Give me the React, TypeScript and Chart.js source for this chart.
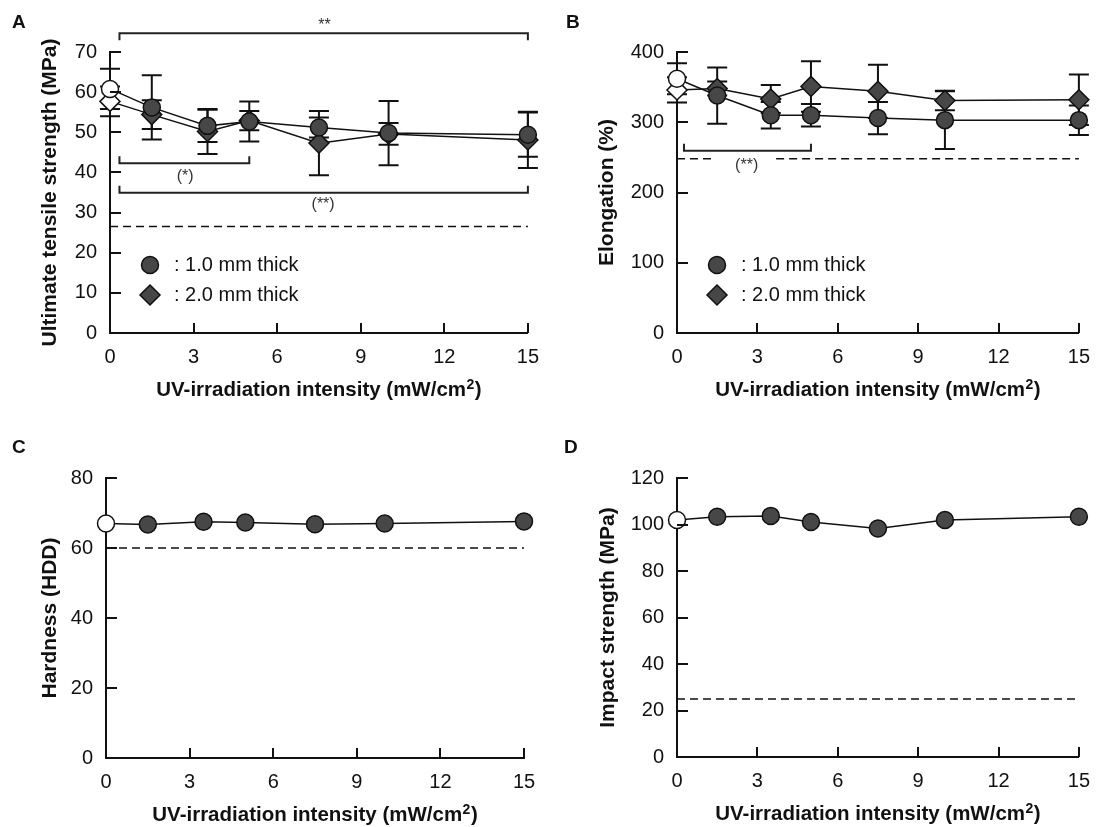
import React, { useEffect, useRef } from 'react';
import { Chart, registerables } from 'chart.js';

Chart.register(...registerables);

const FONT = '"Liberation Sans", Arial, Helvetica, sans-serif';

// ---------- data ----------
const xValues = [0, 1.5, 3.5, 5, 7.5, 10, 15];
const xTicks = [0, 3, 6, 9, 12, 15];

const tensileTicks = [0, 10, 20, 30, 40, 50, 60, 70];
const tensile1mm = [60.8, 56.2, 51.6, 52.7, 51.2, 49.8, 49.4];
const tensile1mmErr = [5, 8, 4, 5, 2.5, 8, 5.5];
const tensile2mm = [57.7, 54.4, 50.2, 52.9, 47.3, 49.6, 48.1];
const tensile2mmErr = [3.7, 3.6, 5.6, 2.4, 8, 2.7, 7];
const tensileStandardX = [0, 15];
const tensileStandard = [26.5, 26.5];

const elongTicks = [0, 100, 200, 300, 400];
const elong1mm = [362, 338, 310, 310, 306, 303, 303];
const elong1mmErr = [22, 40, 19, 16, 23, 41, 21];
const elong2mm = [346, 348, 333, 351, 344, 331, 332];
const elong2mmErr = [18, 10, 20, 36, 38, 14, 36];
const elongStandardX = [0, 1.4, 2.55, 3.7, 15];
const elongStandard = [248, 248, null, 248, 248];

const hardnessTicks = [0, 20, 40, 60, 80];
const hardness = [67, 66.7, 67.5, 67.3, 66.8, 67, 67.6];
const hardnessStandardX = [0, 15];
const hardnessStandard = [60, 60];

const impactTicks = [0, 20, 40, 60, 80, 100, 120];
const impact = [101.9, 103.3, 103.7, 101.1, 98.3, 101.9, 103.3];
const impactStandardX = [0, 15];
const impactStandard = [25, 25];

// significance brackets (data coordinates)
const bracketsA = [
  { x1: 0.34, x2: 15, y: 74.7, dir: 1, label: '**', lx: 7.7, ly: 76.6 },
  { x1: 0.34, x2: 5, y: 42.3, dir: -1, label: '(*)', lx: 2.7, ly: 38.9 },
  { x1: 0.34, x2: 15, y: 34.95, dir: -1, label: '(**)', lx: 7.65, ly: 31.9 },
];
const bracketsB = [
  { x1: 0.26, x2: 5, y: 259.5, dir: -1, label: '(**)', lx: 2.6, ly: 239 },
];

const legendLabels = [': 1.0 mm thick', ': 2.0 mm thick'];
const xTitleMain = 'UV-irradiation intensity (mW/cm';
const xTitleSup = '2';
const xTitleEnd = ')';

// ---------- helpers ----------
const INK = '#111111';
const FILL = '#474747';

function pts(xs: number[], ys: (number | null)[]) {
  return xs.map((x, i) => ({ x, y: ys[i] }));
}

function seriesDataset(ys: number[], errs: number[] | null, style: 'circle' | 'rectRot') {
  return {
    data: pts(xValues, ys),
    errors: errs,
    showLine: true,
    borderColor: INK,
    borderWidth: 1.5,
    pointStyle: style,
    pointRadius: style === 'circle' ? 8.5 : 10,
    pointBackgroundColor: xValues.map((x) => (x === 0 ? '#ffffff' : FILL)),
    pointBorderColor: INK,
    pointBorderWidth: 1.5,
    clip: false,
    fill: false,
  };
}

function dashedDataset(xs: number[], ys: (number | null)[]) {
  return {
    data: pts(xs, ys),
    showLine: true,
    borderColor: INK,
    borderWidth: 1.5,
    borderDash: [8, 5],
    pointRadius: 0,
    spanGaps: false,
    clip: false,
    fill: false,
  };
}

type Area = { left: number; top: number; right: number; bottom: number };
type PanelCfg = {
  letter: string;
  letterX: number;
  letterY: number;
  left: number;
  top: number;
  w: number;
  h: number;
  area: Area;
  yTicks: number[];
  yTitle: string;
  yTitleX: number;
  datasets: any[];
  brackets: any[];
  legend: boolean;
};

function drawDiamond(ctx: CanvasRenderingContext2D, x: number, y: number, r: number) {
  ctx.beginPath();
  ctx.moveTo(x, y - r);
  ctx.lineTo(x + r, y);
  ctx.lineTo(x, y + r);
  ctx.lineTo(x - r, y);
  ctx.closePath();
}

const errorBarsPlugin = {
  id: 'errorBars',
  beforeDatasetsDraw(chart: any) {
    const ctx = chart.ctx as CanvasRenderingContext2D;
    const xs = chart.scales.x;
    const ys = chart.scales.y;
    const CAP = 10;
    chart.data.datasets.forEach((ds: any) => {
      if (!ds.errors) return;
      ds.data.forEach((p: any, i: number) => {
        const e = ds.errors[i];
        if (!e) return;
        const px = xs.getPixelForValue(p.x);
        const top = ys.getPixelForValue(p.y + e);
        const bot = ys.getPixelForValue(p.y - e);
        ctx.save();
        ctx.strokeStyle = INK;
        ctx.lineWidth = 2;
        ctx.beginPath();
        ctx.moveTo(px, top);
        ctx.lineTo(px, bot);
        ctx.moveTo(px - CAP, top);
        ctx.lineTo(px + CAP, top);
        ctx.moveTo(px - CAP, bot);
        ctx.lineTo(px + CAP, bot);
        ctx.stroke();
        ctx.restore();
      });
    });
  },
};

function makeDecorPlugin(cfg: PanelCfg) {
  return {
    id: 'decor' + cfg.letter,
    afterDraw(chart: any) {
      const ctx = chart.ctx as CanvasRenderingContext2D;
      const xs = chart.scales.x;
      const ys = chart.scales.y;
      const a = chart.chartArea;
      ctx.save();
      // inward ticks
      ctx.strokeStyle = INK;
      ctx.lineWidth = 2;
      ctx.beginPath();
      xTicks.forEach((v) => {
        if (v === 0) return;
        const px = Math.round(xs.getPixelForValue(v));
        ctx.moveTo(px, a.bottom);
        ctx.lineTo(px, a.bottom - 10);
      });
      cfg.yTicks.forEach((v) => {
        if (v === 0) return;
        const py = Math.round(ys.getPixelForValue(v));
        ctx.moveTo(a.left, py);
        ctx.lineTo(a.left + 11, py);
      });
      ctx.stroke();

      // brackets
      cfg.brackets.forEach((b) => {
        const x1 = xs.getPixelForValue(b.x1);
        const x2 = xs.getPixelForValue(b.x2);
        const y = ys.getPixelForValue(b.y);
        const t = 7 * b.dir;
        ctx.strokeStyle = '#222';
        ctx.lineWidth = 2;
        ctx.beginPath();
        ctx.moveTo(x1, y + t);
        ctx.lineTo(x1, y);
        ctx.lineTo(x2, y);
        ctx.lineTo(x2, y + t);
        ctx.stroke();
        ctx.fillStyle = '#333';
        ctx.font = `16px ${FONT}`;
        ctx.textAlign = 'center';
        ctx.textBaseline = 'middle';
        ctx.fillText(b.label, xs.getPixelForValue(b.lx), ys.getPixelForValue(b.ly));
      });

      // legend
      if (cfg.legend) {
        const mx = a.left + 40;
        const tx = a.left + 64;
        const y1 = a.top + 213;
        const y2 = a.top + 243;
        ctx.fillStyle = FILL;
        ctx.strokeStyle = INK;
        ctx.lineWidth = 1.5;
        ctx.beginPath();
        ctx.arc(mx, y1, 8.5, 0, Math.PI * 2);
        ctx.fill();
        ctx.stroke();
        drawDiamond(ctx, mx, y2, 10);
        ctx.fill();
        ctx.stroke();
        ctx.fillStyle = INK;
        ctx.font = `20px ${FONT}`;
        ctx.textAlign = 'left';
        ctx.textBaseline = 'middle';
        ctx.fillText(legendLabels[0], tx, y1);
        ctx.fillText(legendLabels[1], tx, y2);
      }

      // panel letter
      ctx.fillStyle = INK;
      ctx.font = `bold 19px ${FONT}`;
      ctx.textAlign = 'left';
      ctx.textBaseline = 'alphabetic';
      ctx.fillText(cfg.letter, cfg.letterX, cfg.letterY);

      // x title with superscript
      const mainFont = `bold 20.5px ${FONT}`;
      const supFont = `bold 14px ${FONT}`;
      ctx.font = mainFont;
      const w1 = ctx.measureText(xTitleMain).width;
      const w3 = ctx.measureText(xTitleEnd).width;
      ctx.font = supFont;
      const w2 = ctx.measureText(xTitleSup).width + 1;
      const total = w1 + w2 + w3;
      let sx = (a.left + a.right) / 2 - total / 2;
      const base = a.bottom + 63;
      ctx.textAlign = 'left';
      ctx.textBaseline = 'alphabetic';
      ctx.font = mainFont;
      ctx.fillText(xTitleMain, sx, base);
      sx += w1;
      ctx.font = supFont;
      ctx.fillText(xTitleSup, sx + 0.5, base - 7);
      sx += w2;
      ctx.font = mainFont;
      ctx.fillText(xTitleEnd, sx, base);

      // y title
      ctx.font = `bold 21px ${FONT}`;
      ctx.textAlign = 'center';
      ctx.textBaseline = 'middle';
      ctx.translate(cfg.yTitleX, (a.top + a.bottom) / 2);
      ctx.rotate(-Math.PI / 2);
      ctx.fillText(cfg.yTitle, 0, 0);
      ctx.restore();
    },
  };
}

function buildConfig(cfg: PanelCfg): any {
  const yMax = cfg.yTicks[cfg.yTicks.length - 1];
  return {
    type: 'scatter',
    data: { datasets: cfg.datasets },
    options: {
      animation: false,
      responsive: false,
      devicePixelRatio: 1,
      events: [],
      layout: {
        autoPadding: false,
        padding: { left: 0, top: cfg.area.top, right: cfg.w - cfg.area.right, bottom: 0 },
      },
      plugins: { legend: { display: false }, tooltip: { enabled: false }, title: { display: false } },
      scales: {
        x: {
          type: 'linear',
          min: 0,
          max: 15,
          afterBuildTicks: (s: any) => {
            s.ticks = xTicks.map((v) => ({ value: v }));
          },
          afterFit: (s: any) => {
            s.height = cfg.h - cfg.area.bottom;
          },
          grid: { display: false, drawTicks: false },
          border: { display: true, color: INK, width: 2 },
          ticks: {
            font: { family: FONT, size: 20 },
            color: INK,
            padding: 12,
            maxRotation: 0,
            autoSkip: false,
          },
        },
        y: {
          type: 'linear',
          min: 0,
          max: yMax,
          afterBuildTicks: (s: any) => {
            s.ticks = cfg.yTicks.map((v) => ({ value: v }));
          },
          afterFit: (s: any) => {
            s.width = cfg.area.left;
          },
          grid: { display: false, drawTicks: false },
          border: { display: true, color: INK, width: 2 },
          ticks: {
            font: { family: FONT, size: 20 },
            color: INK,
            padding: 13,
            autoSkip: false,
          },
        },
      },
    },
    plugins: [errorBarsPlugin, makeDecorPlugin(cfg)],
  };
}

const panels: PanelCfg[] = [
  {
    letter: 'A', letterX: 12, letterY: 28,
    left: 0, top: 0, w: 551, h: 413,
    area: { left: 110, top: 52, right: 528, bottom: 333 },
    yTicks: tensileTicks,
    yTitle: 'Ultimate tensile strength (MPa)',
    yTitleX: 50,
    datasets: [
      seriesDataset(tensile1mm, tensile1mmErr, 'circle'),
      seriesDataset(tensile2mm, tensile2mmErr, 'rectRot'),
      dashedDataset(tensileStandardX, tensileStandard),
    ],
    brackets: bracketsA,
    legend: true,
  },
  {
    letter: 'B', letterX: 15, letterY: 28,
    left: 551, top: 0, w: 551, h: 413,
    area: { left: 126, top: 52, right: 536, bottom: 333 },
    yTicks: elongTicks,
    yTitle: 'Elongation (%)',
    yTitleX: 56,
    datasets: [
      seriesDataset(elong1mm, elong1mmErr, 'circle'),
      seriesDataset(elong2mm, elong2mmErr, 'rectRot'),
      dashedDataset(elongStandardX, elongStandard),
    ],
    brackets: bracketsB,
    legend: true,
  },
  {
    letter: 'C', letterX: 12, letterY: 40,
    left: 0, top: 413, w: 551, h: 414,
    area: { left: 106, top: 65, right: 524, bottom: 345 },
    yTicks: hardnessTicks,
    yTitle: 'Hardness (HDD)',
    yTitleX: 50,
    datasets: [
      seriesDataset(hardness, null, 'circle'),
      dashedDataset(hardnessStandardX, hardnessStandard),
    ],
    brackets: [],
    legend: false,
  },
  {
    letter: 'D', letterX: 13, letterY: 40,
    left: 551, top: 413, w: 551, h: 414,
    area: { left: 126, top: 65, right: 536, bottom: 344 },
    yTicks: impactTicks,
    yTitle: 'Impact strength (MPa)',
    yTitleX: 57,
    datasets: [
      seriesDataset(impact, null, 'circle'),
      dashedDataset(impactStandardX, impactStandard),
    ],
    brackets: [],
    legend: false,
  },
];

function Panel({ cfg }: { cfg: PanelCfg }) {
  const ref = useRef<HTMLCanvasElement>(null);
  useEffect(() => {
    if (!ref.current) return;
    const chart = new Chart(ref.current, buildConfig(cfg));
    return () => chart.destroy();
  }, [cfg]);
  return (
    <canvas
      ref={ref}
      width={cfg.w}
      height={cfg.h}
      style={{ position: 'absolute', left: cfg.left, top: cfg.top, width: cfg.w, height: cfg.h }}
    />
  );
}

export default function App() {
  return (
    <div style={{ position: 'absolute', left: 0, top: 0, width: 1102, height: 827, background: '#ffffff' }}>
      {panels.map((p) => (
        <Panel key={p.letter} cfg={p} />
      ))}
    </div>
  );
}
